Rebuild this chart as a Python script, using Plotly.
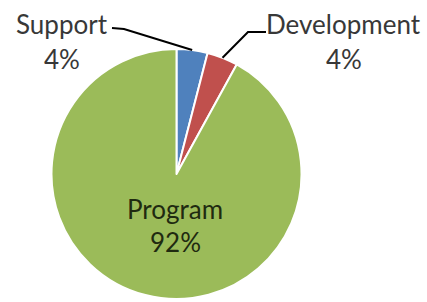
import math
import plotly.graph_objects as go

labels = ["Support", "Development", "Program"]
values = [4, 4, 92]
colors = ["#4F81BD", "#C0504D", "#9BBB59"]

W, H = 427, 302
CX, CY, R = 176.5, 174.0, 125.0  # pie centre / radius in pixels (from top-left)

def px(x):
    return x / W

def py(y):
    return 1 - y / H

total = sum(values)
pcts = [f"{round(v / total * 100)}%" for v in values]

# mid angles (clockwise from 12 o'clock)
mids = []
acc = 0
for v in values:
    mids.append((acc + v / 2) / total * 2 * math.pi)
    acc += v

def edge(i, rr=R):
    a = mids[i]
    return CX + rr * math.sin(a), CY - rr * math.cos(a)

fig = go.Figure(go.Pie(
    labels=labels, values=values, sort=False, direction="clockwise", rotation=0,
    marker=dict(colors=colors, line=dict(color="white", width=2)),
    textinfo="none", hoverinfo="label+percent", showlegend=False,
    domain=dict(x=[px(CX - R), px(CX + R)], y=[py(CY + R), py(CY - R)]),
))

font_main = dict(family="Lato, Open Sans, sans-serif", size=26, color="#383838")
font_prog = dict(family="Lato, Open Sans, sans-serif", size=26, color="#1f2a10")

ann = []
# Support label
ann.append(dict(x=px(62), y=py(24), text=labels[0], font=font_main))
ann.append(dict(x=px(62), y=py(59), text=pcts[0], font=font_main))
# Development label
ann.append(dict(x=px(343), y=py(24), text=labels[1], font=font_main))
ann.append(dict(x=px(344), y=py(59), text=pcts[1], font=font_main))
# Program label
ann.append(dict(x=px(175), y=py(209), text=labels[2], font=font_prog))
ann.append(dict(x=px(175), y=py(242), text=pcts[2], font=font_prog))
for a in ann:
    a.update(xref="paper", yref="paper", showarrow=False, xanchor="center", yanchor="middle")

# leader lines
sx, sy = edge(0)
dx, dy = edge(1)
shapes = [
    dict(type="path", xref="paper", yref="paper",
         path=f"M {px(112)},{py(28)} L {px(124)},{py(29)} L {px(sx)},{py(sy)}",
         line=dict(color="black", width=2)),
    dict(type="path", xref="paper", yref="paper",
         path=f"M {px(dx)},{py(dy)} L {px(248)},{py(32)} L {px(266)},{py(32)}",
         line=dict(color="black", width=2)),
]

fig.update_layout(
    width=W, height=H, margin=dict(l=0, r=0, t=0, b=0),
    paper_bgcolor="white", plot_bgcolor="white",
    annotations=ann, shapes=shapes,
)

fig.write_html("out.html", config={"displayModeBar": False},
               post_script="document.body.style.margin='0';document.body.style.overflow='hidden';")
